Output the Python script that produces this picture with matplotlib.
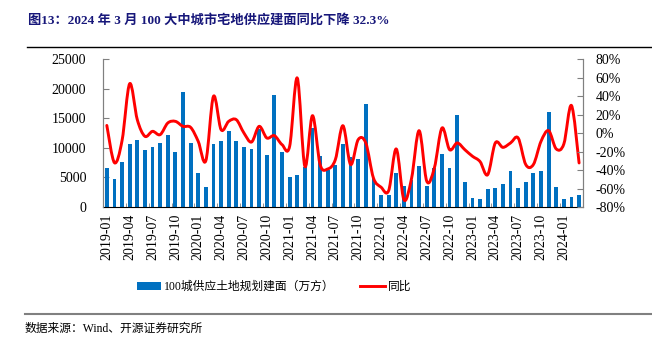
import numpy as np
import matplotlib
matplotlib.use("Agg")
import matplotlib.pyplot as plt
from matplotlib.path import Path
from matplotlib.patches import PathPatch
from matplotlib.lines import Line2D

# data (2019-01 .. 2024-03)
months = [f"{y}-{m:02d}" for y in range(2019, 2025) for m in range(1, 13)][:63]
supply = [6650, 4740, 7620, 10660, 11400, 9650, 10210, 10830, 12190, 9250, 19520, 10780,
          5810, 3330, 10660, 11170, 12860, 11170, 10210, 9760, 13200, 8800, 18960, 9360,
          5020, 5470, 6720, 13320, 8690, 6260, 7110, 10610, 8520, 8070, 17430, 4960,
          2030, 2030, 5700, 3550, 4570, 6990, 3550, 6550, 8970, 6650, 15570, 4290,
          1470, 1380, 3050, 3160, 3840, 6150, 3270, 4180, 5810, 6090, 16020, 3440,
          1350, 1750, 2030]
yoy = [8.4, -32, -8, 53.6, 14.6, -3.4, 2, -1.6, 11, 12.8, 7.4, 6.3,
       -8.9, -29.8, 39.9, 3.8, 12.8, 14.6, 0.2, -9.6, 7.4, -5.2, -2.7, -12.4,
       -14.3, 59.8, -36, 19, -34, -38.8, -28.7, 8.1, -34, -7, -10.6, -48.5,
       -58.5, -62.3, -17.1, -72, -49.3, 2.7, -52, -37.7, 5.6, -17.9, -10.6, -17.9,
       -25, -30.8, -45, -10.6, -15.4, -10.6, -5.2, -34, -34, -8.9, 2.7, -17.1,
       -11.7, 30, -32.3]

title = "图13：2024 年 3 月 100 大中城市宅地供应建面同比下降 32.3%"
source = "数据来源：Wind、开源证券研究所"
bar_label = "100城供应土地规划建面（万方）"
line_label = "同比"

serif = ["Liberation Serif", "Noto Sans CJK SC"]
plt.rcParams["font.family"] = serif

fig = plt.figure(figsize=(6.52, 3.45), dpi=100)
ax = fig.add_axes([0.158, 0.40, 0.736, 0.428])
ax2 = ax.twinx()

x = np.arange(len(months))
bars = ax.bar(x, supply, width=0.5, color="#0070C0", zorder=2)
ax.set_xlim(-0.5, len(months) - 0.5)
ax.set_ylim(0, 25000)
ax.set_yticks(np.arange(0, 25001, 5000))
ax2.set_ylim(-80, 80)
ax2.set_yticks(np.arange(-80, 81, 20))
ax2.set_yticklabels([f"{v}%" for v in range(-80, 81, 20)])

# smooth line through the monthly points (Catmull-Rom as cubic Bezier)
pts = np.column_stack([x, yoy]).astype(float)
ext = np.vstack([pts[0], pts, pts[-1]])
verts = [pts[0]]
codes = [Path.MOVETO]
for i in range(len(pts) - 1):
    p0, p1, p2, p3 = ext[i], ext[i + 1], ext[i + 2], ext[i + 3]
    verts += [p1 + (p2 - p0) / 6, p2 - (p3 - p1) / 6, p2]
    codes += [Path.CURVE4] * 3
ax2.add_patch(PathPatch(Path(verts, codes), fill=False, edgecolor="#FF0000",
                        lw=2.1, capstyle="round", joinstyle="round"))

# x ticks: labels every 3 months, tick marks between categories
ax.set_xticks(x[::3])
ax.set_xticklabels(months[::3], rotation=90, fontsize=10)
ax.tick_params(axis="x", length=0, pad=5)
ax.set_xticks(x[::3] - 0.5, minor=True)
ax.tick_params(axis="x", which="minor", direction="in", length=3, color="#808080")

ax.tick_params(axis="y", direction="in", length=4, color="#808080", labelsize=10, pad=12)
ax2.tick_params(axis="y", direction="in", length=4, color="#808080", labelsize=10, pad=9)

for a in (ax, ax2):
    a.spines["top"].set_visible(False)
    a.spines["left"].set_color("#808080")
    a.spines["right"].set_color("#808080")
    a.spines["bottom"].set_color("#000000")

ax2.spines["bottom"].set_visible(False)

line_proxy = Line2D([], [], color="#FF0000", lw=2.1)
fig.legend([bars, line_proxy], [bar_label, line_label], loc="center",
           bbox_to_anchor=(0.42, 0.168), ncol=2, frameon=False,
           prop={"family": serif, "size": 8.5}, handlelength=2.1,
           handleheight=0.6, columnspacing=2.1, handletextpad=0.25)

fig.text(0.043, 0.942, title, fontsize=9.5, fontweight="bold", color="#17177A",
         family=serif, va="center", ha="left")
fig.add_artist(Line2D([0.041, 1.0], [0.864, 0.864], color="#000000", lw=1.0))
fig.add_artist(Line2D([0.038, 1.0], [0.09, 0.09], color="#808080", lw=1.5))
fig.text(0.038, 0.046, source, fontsize=8.5, family=serif, va="center", ha="left")

fig.savefig("out.png", dpi=100)
